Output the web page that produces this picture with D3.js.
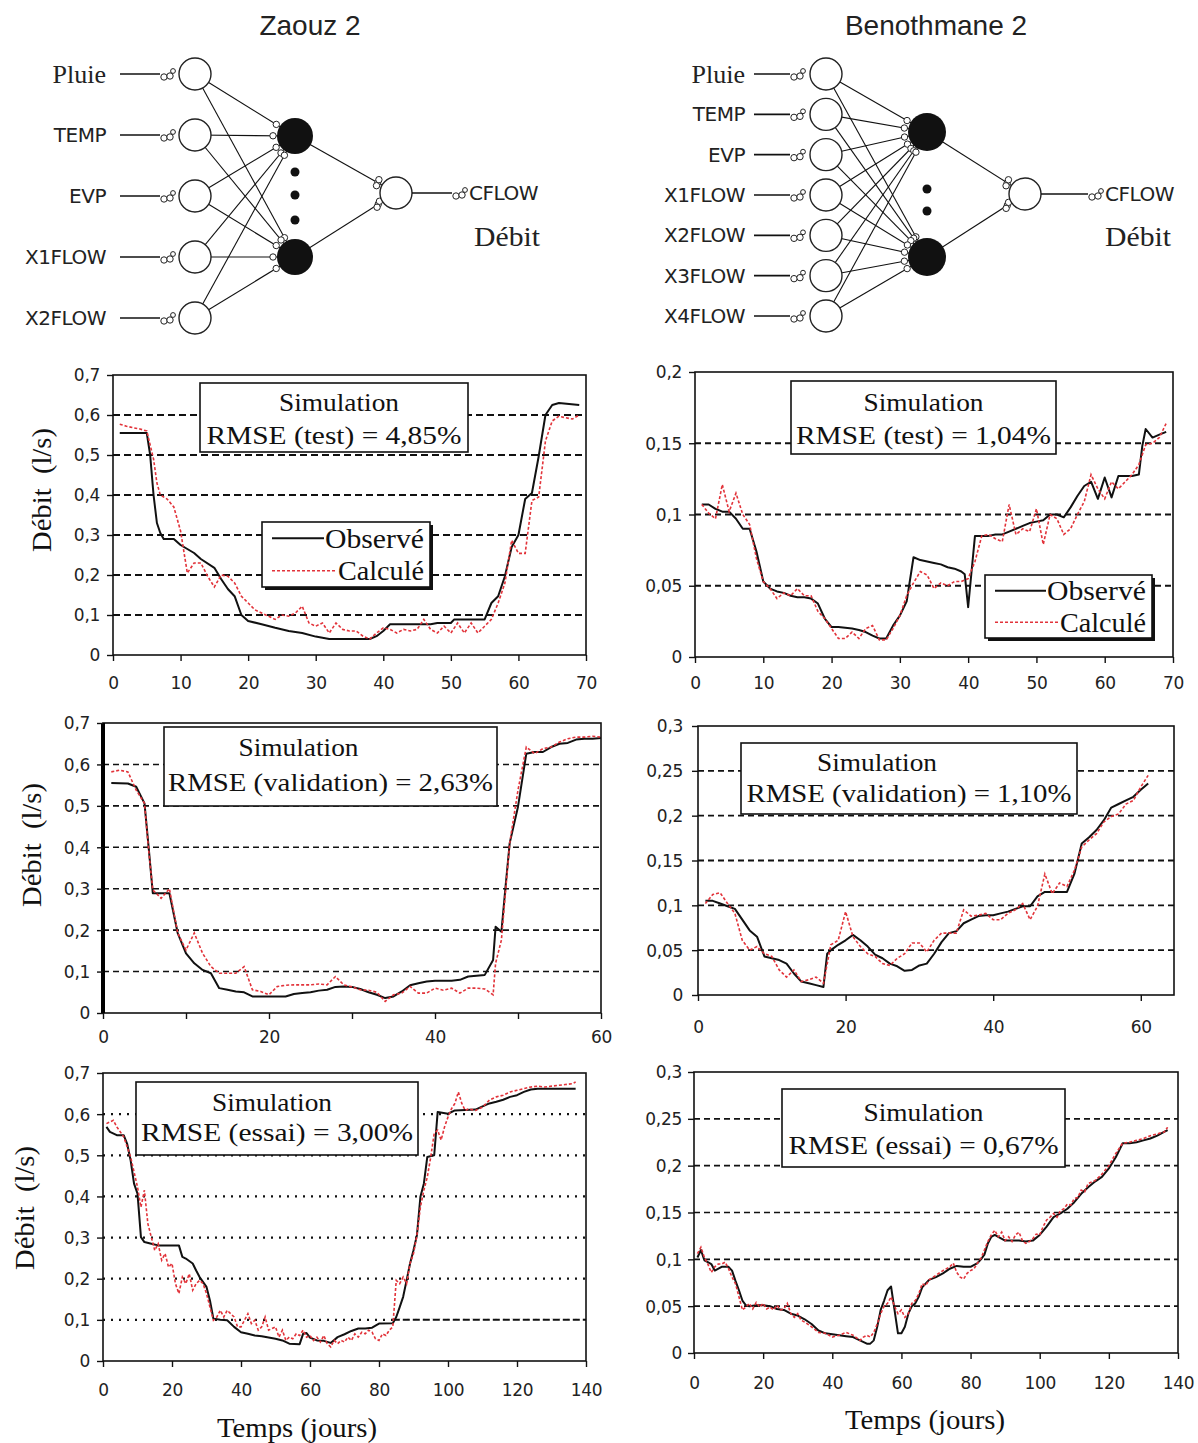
<!DOCTYPE html>
<html>
<head>
<meta charset="utf-8">
<script src="https://cdn.jsdelivr.net/npm/d3@7"></script>
<style>
  body { margin: 0; background: #fff; }
  svg { display: block; }
</style>
</head>
<body>
<svg id="fig" width="1198" height="1443"></svg>
<script>
// ---------- Network inputs ----------
const zaouzInputs = ["Pluie", "TEMP", "EVP", "X1FLOW", "X2FLOW"];
const benInputs = ["Pluie", "TEMP", "EVP", "X1FLOW", "X2FLOW", "X3FLOW", "X4FLOW"];

// ---------- Series: [day, discharge l/s] ----------
const zaouzTestObs = [[1,0.555],[5,0.555],[5.5,0.5],[6,0.4],[6.5,0.33],[7,0.305],[7.5,0.29],[9,0.29],[10,0.275],[12,0.255],[13,0.24],[15,0.218],[16,0.19],[17,0.165],[18,0.147],[19,0.1],[20,0.085],[22,0.077],[24,0.068],[26,0.06],[28,0.055],[30,0.046],[32,0.04],[38,0.04],[39,0.047],[40,0.06],[41,0.077],[47,0.077],[48,0.08],[50,0.08],[50.5,0.089],[55,0.089],[56,0.13],[57,0.147],[58,0.197],[59,0.27],[60,0.3],[61,0.39],[62,0.405],[63,0.497],[64,0.6],[65,0.625],[66,0.63],[69,0.625]];
const zaouzTestCalc = [[1,0.577],[2,0.572],[3,0.568],[4,0.565],[5,0.56],[6,0.49],[6.5,0.43],[7,0.4],[8,0.39],[9,0.37],[10,0.31],[11,0.205],[12,0.23],[13,0.23],[14,0.197],[15,0.17],[16,0.2],[17,0.197],[18,0.18],[19,0.147],[20,0.13],[21,0.113],[22,0.105],[23,0.097],[24,0.089],[25,0.1],[26,0.097],[27,0.105],[28,0.122],[29,0.08],[30,0.072],[31,0.08],[32,0.055],[33,0.08],[34,0.064],[35,0.06],[36,0.06],[37,0.047],[38,0.04],[39,0.055],[40,0.068],[41,0.064],[42,0.055],[43,0.064],[44,0.06],[45,0.064],[46,0.089],[47,0.064],[48,0.055],[49,0.072],[50,0.055],[51,0.08],[52,0.055],[53,0.08],[54,0.055],[55,0.072],[56,0.089],[57,0.13],[58,0.18],[59,0.287],[60,0.254],[61,0.254],[62,0.386],[63,0.395],[64,0.535],[65,0.585],[66,0.597],[67,0.593],[68,0.59],[69,0.6]];

const benTestObs = [[1,0.107],[2,0.107],[3,0.104],[4,0.102],[5,0.102],[6,0.097],[7,0.09],[8,0.09],[9,0.074],[10,0.053],[11,0.048],[12,0.046],[13,0.045],[14,0.043],[15,0.042],[16,0.042],[17,0.041],[18,0.0375],[19,0.027],[20,0.021],[21,0.021],[22,0.0205],[23,0.02],[24,0.019],[25,0.0175],[26,0.015],[27,0.013],[28,0.013],[29,0.022],[30,0.029],[31,0.039],[32,0.07],[33,0.068],[34,0.067],[35,0.066],[36,0.065],[37,0.063],[38,0.062],[39,0.06],[39.5,0.058],[40,0.035],[40.5,0.06],[41,0.085],[42,0.085],[43,0.085],[44,0.086],[45,0.086],[46,0.088],[47,0.09],[48,0.092],[49,0.094],[50,0.095],[51,0.096],[52,0.1],[53,0.1],[54,0.098],[55,0.105],[56,0.113],[57,0.12],[58,0.123],[59,0.111],[60,0.126],[61,0.112],[62,0.127],[63,0.127],[64,0.127],[65,0.128],[65.5,0.148],[66,0.16],[67,0.154],[68,0.156],[69,0.158]];
const benTestCalc = [[1,0.107],[2,0.101],[3,0.097],[4,0.121],[5,0.102],[6,0.115],[7,0.1],[8,0.093],[9,0.069],[10,0.053],[11,0.048],[12,0.041],[13,0.045],[14,0.043],[15,0.048],[16,0.043],[17,0.043],[18,0.032],[19,0.027],[20,0.02],[21,0.013],[22,0.013],[23,0.0175],[24,0.013],[25,0.02],[26,0.022],[27,0.012],[28,0.012],[29,0.02],[30,0.029],[31,0.043],[32,0.052],[33,0.06],[34,0.0575],[35,0.048],[36,0.052],[37,0.05],[38,0.053],[39,0.053],[40,0.055],[41,0.067],[42,0.085],[43,0.086],[44,0.083],[45,0.081],[46,0.107],[47,0.086],[48,0.09],[49,0.088],[50,0.104],[51,0.079],[52,0.1],[53,0.097],[54,0.086],[55,0.09],[56,0.1],[57,0.109],[58,0.128],[59,0.118],[60,0.111],[61,0.123],[62,0.118],[63,0.123],[64,0.128],[65,0.135],[66,0.149],[67,0.15],[68,0.154],[69,0.164]];

const zaouzValObs = [[1,0.555],[3,0.554],[4,0.546],[5,0.506],[5.5,0.4],[6,0.289],[8,0.289],[9,0.193],[10,0.144],[11,0.12],[12,0.104],[13,0.096],[14,0.06],[15,0.056],[16,0.052],[17,0.05],[18,0.04],[22,0.04],[23,0.046],[24,0.048],[25,0.05],[26,0.054],[27,0.056],[28,0.063],[29,0.064],[30,0.063],[31,0.058],[32,0.05],[33,0.044],[34,0.036],[35,0.04],[36,0.052],[37,0.067],[38,0.072],[39,0.076],[40,0.078],[42,0.078],[43,0.08],[44,0.088],[45,0.09],[46,0.092],[47,0.128],[47.3,0.208],[48,0.196],[48.5,0.305],[49,0.41],[50,0.498],[51,0.626],[52,0.63],[53,0.63],[54,0.642],[55,0.65],[56,0.652],[57,0.66],[58,0.662],[59,0.662],[60,0.664]];
const zaouzValCalc = [[1,0.582],[2,0.586],[3,0.582],[4,0.538],[5,0.506],[5.5,0.393],[6,0.297],[7,0.277],[8,0.3],[9,0.193],[10,0.152],[11,0.193],[12,0.144],[13,0.112],[14,0.096],[15,0.096],[16,0.096],[17,0.112],[18,0.056],[19,0.052],[20,0.044],[21,0.064],[22,0.067],[23,0.068],[24,0.068],[25,0.068],[26,0.07],[27,0.068],[28,0.088],[29,0.068],[30,0.063],[31,0.056],[32,0.055],[33,0.05],[34,0.028],[35,0.044],[36,0.048],[37,0.064],[38,0.048],[39,0.048],[40,0.06],[41,0.055],[42,0.06],[43,0.048],[44,0.06],[45,0.06],[46,0.058],[47,0.044],[47.3,0.12],[48,0.176],[49,0.41],[50,0.538],[51,0.642],[52,0.626],[53,0.638],[54,0.642],[55,0.654],[56,0.662],[57,0.666],[58,0.666],[59,0.668],[60,0.666]];

const benValObs = [[1,0.105],[2,0.105],[3,0.102],[4,0.099],[5,0.096],[6,0.084],[7,0.072],[8,0.065],[9,0.043],[10,0.041],[11,0.039],[12,0.035],[13,0.024],[14,0.015],[15,0.013],[16,0.011],[17,0.009],[17.5,0.046],[18,0.05],[19,0.056],[20,0.061],[21,0.067],[22,0.061],[23,0.054],[24,0.045],[25,0.041],[26,0.035],[27,0.032],[28,0.027],[29,0.028],[30,0.033],[31,0.035],[32,0.046],[33,0.059],[34,0.069],[35,0.071],[36,0.08],[37,0.084],[38,0.088],[39,0.089],[40,0.089],[41,0.091],[42,0.093],[43,0.096],[44,0.099],[45,0.099],[46,0.11],[47,0.115],[50,0.115],[51,0.135],[52,0.169],[53,0.176],[54,0.184],[55,0.195],[56,0.209],[57,0.213],[58,0.217],[59,0.221],[60,0.229],[61,0.236]];
const benValCalc = [[1,0.102],[2,0.112],[3,0.114],[4,0.102],[5,0.091],[6,0.061],[7,0.05],[8,0.054],[9,0.046],[10,0.043],[11,0.028],[12,0.02],[13,0.028],[14,0.015],[15,0.017],[16,0.02],[17,0.013],[18,0.056],[19,0.061],[20,0.093],[21,0.065],[22,0.054],[23,0.046],[24,0.043],[25,0.035],[26,0.033],[27,0.041],[28,0.046],[29,0.058],[30,0.058],[31,0.048],[32,0.061],[33,0.069],[34,0.069],[35,0.069],[36,0.095],[37,0.088],[38,0.089],[39,0.091],[40,0.084],[41,0.084],[42,0.091],[43,0.095],[44,0.102],[45,0.084],[46,0.099],[47,0.135],[48,0.113],[49,0.125],[50,0.121],[51,0.139],[52,0.165],[53,0.173],[54,0.18],[55,0.193],[56,0.199],[57,0.202],[58,0.213],[59,0.217],[60,0.232],[61,0.245]];

const zaouzEssObs = [[1,0.569],[2,0.557],[4,0.549],[6,0.549],[7,0.528],[8,0.488],[9,0.431],[10,0.407],[11,0.301],[12,0.289],[14,0.285],[16,0.281],[22,0.281],[23,0.253],[24,0.249],[26,0.237],[27,0.22],[28,0.204],[30,0.18],[31,0.147],[32,0.103],[34,0.1],[36,0.099],[38,0.083],[40,0.07],[42,0.066],[44,0.062],[46,0.06],[48,0.057],[50,0.054],[52,0.05],[54,0.042],[57,0.041],[58,0.066],[59,0.068],[60,0.057],[62,0.05],[64,0.049],[66,0.044],[68,0.058],[70,0.065],[72,0.073],[74,0.079],[76,0.079],[78,0.081],[80,0.091],[84,0.092],[85,0.107],[86,0.131],[87,0.156],[88,0.196],[89,0.237],[90,0.269],[91,0.306],[92,0.399],[93,0.431],[94,0.496],[96,0.5],[97,0.605],[100,0.601],[102,0.609],[108,0.611],[110,0.619],[112,0.626],[114,0.63],[116,0.635],[118,0.642],[120,0.646],[122,0.654],[124,0.66],[126,0.662],[137,0.662]];
const zaouzEssCalc = [[1,0.577],[3,0.585],[4,0.569],[6,0.545],[8,0.496],[10,0.423],[11,0.374],[12,0.415],[13,0.334],[14,0.301],[15,0.269],[16,0.285],[17,0.245],[18,0.261],[19,0.228],[20,0.237],[21,0.188],[22,0.164],[23,0.204],[24,0.188],[25,0.212],[26,0.172],[27,0.188],[28,0.196],[29,0.188],[30,0.164],[31,0.131],[32,0.099],[33,0.107],[34,0.123],[35,0.107],[36,0.123],[37,0.115],[38,0.107],[39,0.083],[40,0.083],[41,0.099],[42,0.115],[43,0.091],[44,0.099],[45,0.075],[46,0.083],[47,0.107],[48,0.075],[50,0.083],[51,0.058],[52,0.075],[53,0.05],[54,0.058],[55,0.054],[56,0.066],[57,0.062],[58,0.075],[59,0.058],[60,0.062],[61,0.05],[62,0.058],[63,0.046],[64,0.062],[65,0.042],[66,0.034],[67,0.05],[68,0.042],[69,0.05],[70,0.046],[71,0.058],[72,0.05],[73,0.066],[74,0.058],[75,0.07],[76,0.066],[77,0.075],[78,0.07],[79,0.054],[80,0.05],[81,0.066],[82,0.062],[83,0.075],[84,0.083],[85,0.196],[86,0.188],[87,0.204],[88,0.188],[89,0.237],[90,0.261],[91,0.306],[92,0.374],[93,0.415],[94,0.447],[95,0.496],[96,0.553],[97,0.561],[98,0.537],[99,0.569],[100,0.593],[101,0.613],[102,0.626],[103,0.654],[104,0.626],[105,0.609],[106,0.613],[108,0.609],[110,0.617],[112,0.634],[114,0.642],[116,0.646],[118,0.654],[120,0.658],[122,0.662],[124,0.666],[126,0.668],[128,0.666],[130,0.668],[132,0.67],[134,0.672],[136,0.674],[137,0.678]];

const benEssObs = [[1,0.102],[2,0.11],[3,0.099],[4,0.097],[5,0.095],[6,0.088],[8,0.092],[10,0.092],[11,0.088],[12,0.077],[13,0.067],[14,0.056],[15,0.051],[16,0.05],[18,0.051],[20,0.051],[22,0.05],[24,0.047],[26,0.046],[28,0.042],[30,0.04],[32,0.036],[34,0.031],[36,0.024],[38,0.021],[40,0.02],[42,0.019],[44,0.018],[46,0.017],[48,0.0135],[50,0.01],[51,0.01],[52,0.0135],[53,0.028],[54,0.046],[55,0.056],[56,0.067],[57,0.071],[58,0.046],[59,0.021],[60,0.021],[61,0.028],[62,0.042],[63,0.05],[64,0.053],[65,0.06],[66,0.07],[68,0.078],[70,0.081],[72,0.085],[74,0.09],[76,0.093],[78,0.092],[80,0.092],[82,0.096],[83,0.1],[84,0.105],[85,0.117],[86,0.124],[87,0.126],[88,0.124],[90,0.12],[94,0.12],[96,0.119],[98,0.12],[100,0.126],[102,0.135],[104,0.145],[106,0.149],[108,0.154],[110,0.161],[112,0.17],[114,0.177],[116,0.183],[118,0.188],[120,0.197],[122,0.209],[124,0.224],[126,0.224],[128,0.225],[130,0.227],[132,0.229],[134,0.232],[136,0.236],[137,0.238]];
const benEssCalc = [[1,0.106],[2,0.113],[3,0.102],[4,0.095],[5,0.086],[6,0.092],[7,0.095],[8,0.095],[9,0.097],[10,0.09],[11,0.081],[12,0.074],[13,0.06],[14,0.046],[15,0.049],[16,0.053],[17,0.047],[18,0.054],[19,0.049],[20,0.053],[21,0.047],[22,0.049],[23,0.046],[24,0.051],[25,0.046],[26,0.047],[27,0.053],[28,0.042],[29,0.038],[30,0.042],[31,0.035],[32,0.033],[34,0.028],[36,0.022],[38,0.021],[40,0.017],[42,0.019],[44,0.022],[46,0.019],[48,0.0135],[49,0.017],[50,0.019],[51,0.017],[52,0.022],[53,0.031],[54,0.042],[55,0.05],[56,0.053],[57,0.06],[58,0.05],[59,0.042],[60,0.046],[61,0.038],[62,0.042],[63,0.053],[64,0.056],[65,0.063],[66,0.074],[67,0.072],[68,0.078],[70,0.083],[72,0.088],[74,0.092],[75,0.096],[76,0.086],[77,0.081],[78,0.079],[79,0.085],[80,0.088],[81,0.09],[82,0.096],[83,0.101],[84,0.11],[85,0.119],[86,0.126],[87,0.131],[88,0.124],[89,0.129],[90,0.12],[91,0.124],[92,0.119],[93,0.126],[94,0.129],[95,0.12],[96,0.117],[97,0.119],[98,0.122],[99,0.127],[100,0.126],[101,0.135],[102,0.142],[103,0.145],[104,0.149],[105,0.145],[106,0.152],[107,0.154],[108,0.159],[109,0.158],[110,0.165],[111,0.166],[112,0.174],[113,0.172],[114,0.181],[116,0.184],[118,0.191],[120,0.2],[122,0.213],[124,0.224],[126,0.225],[128,0.227],[130,0.229],[132,0.232],[134,0.234],[136,0.236],[137,0.241]];

// ---------- Tick values ----------
const ticksX70 = [0, 10, 20, 30, 40, 50, 60, 70];
const ticksX60 = [0, 10, 20, 30, 40, 50, 60];
const labelsX60 = [0, 20, 40, 60];
const ticksXVal = [0, 20, 40, 60];
const ticksX140 = [0, 20, 40, 60, 80, 100, 120, 140];
const ticksY07 = [0, 0.1, 0.2, 0.3, 0.4, 0.5, 0.6, 0.7];
const ticksY02 = [0, 0.05, 0.1, 0.15, 0.2];
const ticksY03 = [0, 0.05, 0.1, 0.15, 0.2, 0.25, 0.3];

const rmseLabels = ["RMSE (test) = 4,85%", "RMSE (test) = 1,04%",
                    "RMSE (validation) = 2,63%", "RMSE (validation) = 1,10%",
                    "RMSE (essai) = 3,00%", "RMSE (essai) = 0,67%"];

const SANS = "'DejaVu Sans', sans-serif";
const ARIAL = "'Liberation Sans', Arial, sans-serif";
const SERIF = "'Liberation Serif', 'Times New Roman', serif";
const RED = "#e2333a";

const svg = d3.select("#fig");
svg.append("rect").attr("width", 1198).attr("height", 1443).attr("fill", "#fff");

// ---------- Network diagrams ----------
function drawNetwork(n) {
  const g = svg.append("g");
  const yIn = d3.scalePoint().domain(n.inputs).range([n.inTop, n.inBottom]);

  g.append("text").attr("x", n.titleX).attr("y", 25).attr("dy", "0.35em")
    .attr("text-anchor", "middle").attr("font-family", ARIAL).attr("font-size", 28)
    .attr("fill", "#222").text(n.title);

  // input -> hidden edges
  const edges = [];
  n.inputs.forEach(name => n.hiddenY.forEach(hy => edges.push({x1: n.inX, y1: yIn(name), x2: n.hidX, y2: hy})));
  g.selectAll("line.e").data(edges).join("line")
    .attr("x1", d => d.x1).attr("y1", d => d.y1).attr("x2", d => d.x2).attr("y2", d => d.y2)
    .attr("stroke", "#111").attr("stroke-width", 1.1);

  // hidden -> output edges
  n.hiddenY.forEach(hy => {
    g.append("line").attr("x1", n.hidX).attr("y1", hy).attr("x2", n.outX).attr("y2", n.outY)
      .attr("stroke", "#111").attr("stroke-width", 1.1);
  });

  // input lines, labels, nodes
  n.inputs.forEach(name => {
    const y = yIn(name);
    g.append("line").attr("x1", n.lineX0).attr("x2", n.lineX1).attr("y1", y).attr("y2", y)
      .attr("stroke", "#111").attr("stroke-width", 1.6);
    [[4, 3, 3.2], [10, 2, 3.2], [13, -3, 2.4]].forEach(c => {
      g.append("circle").attr("cx", n.lineX1 + c[0]).attr("cy", y + c[1]).attr("r", c[2])
        .attr("fill", "#fff").attr("stroke", "#222").attr("stroke-width", 1);
    });
    const serif = name === "Pluie";
    g.append("text").attr("x", n.labelX).attr("y", y).attr("dy", "0.35em")
      .attr("text-anchor", "end").attr("font-family", serif ? SERIF : SANS)
      .attr("font-size", serif ? 26 : 20).attr("fill", "#222")
      .attr("letter-spacing", serif ? 0 : -0.5).text(name);
    g.append("circle").attr("cx", n.inX).attr("cy", y).attr("r", n.inR)
      .attr("fill", "#fff").attr("stroke", "#222").attr("stroke-width", 1.4);
  });

  // small connector rings around hidden node inputs
  edges.forEach(e => {
    const a = Math.atan2(e.y1 - e.y2, e.x1 - e.x2);
    const d = n.hidR + 4;
    g.append("circle").attr("cx", e.x2 + d * Math.cos(a)).attr("cy", e.y2 + d * Math.sin(a))
      .attr("r", 3.2).attr("fill", "#fff").attr("stroke", "#222").attr("stroke-width", 1);
  });

  // hidden nodes
  g.selectAll("circle.h").data(n.hiddenY).join("circle")
    .attr("cx", n.hidX).attr("cy", d => d).attr("r", n.hidR).attr("fill", "#111");
  g.selectAll("circle.dot").data(n.dotsY).join("circle")
    .attr("cx", n.hidX).attr("cy", d => d).attr("r", 4.5).attr("fill", "#111");

  // output node connectors
  n.hiddenY.forEach(hy => {
    const a = Math.atan2(hy - n.outY, n.hidX - n.outX);
    const d = n.outR + 5;
    [[0, 0], [-4, 5], [4, -5]].forEach(o => {
      g.append("circle").attr("cx", n.outX + d * Math.cos(a) + o[0] * 0.3)
        .attr("cy", n.outY + d * Math.sin(a) + o[1] * 0.6).attr("r", 3.2)
        .attr("fill", "#fff").attr("stroke", "#222").attr("stroke-width", 1);
    });
  });
  g.append("circle").attr("cx", n.outX).attr("cy", n.outY).attr("r", n.outR)
    .attr("fill", "#fff").attr("stroke", "#222").attr("stroke-width", 1.4);
  g.append("line").attr("x1", n.outX + n.outR).attr("x2", n.outLineX1)
    .attr("y1", n.outY).attr("y2", n.outY).attr("stroke", "#111").attr("stroke-width", 1.6);
  [[4, 3, 3.2], [10, 2, 3.2], [13, -3, 2.4]].forEach(c => {
    g.append("circle").attr("cx", n.outLineX1 + c[0]).attr("cy", n.outY + c[1]).attr("r", c[2])
      .attr("fill", "#fff").attr("stroke", "#222").attr("stroke-width", 1);
  });
  g.append("text").attr("x", n.outLineX1 + 17).attr("y", n.outY).attr("dy", "0.35em")
    .attr("font-family", SANS).attr("font-size", 20).attr("letter-spacing", -0.5)
    .attr("fill", "#222").text("CFLOW");
  g.append("text").attr("x", n.debitX).attr("y", 237).attr("dy", "0.35em")
    .attr("text-anchor", "middle").attr("font-family", SERIF).attr("font-size", 27)
    .attr("textLength", 66).attr("lengthAdjust", "spacingAndGlyphs")
    .attr("fill", "#222").text("Débit");
}

drawNetwork({
  title: "Zaouz 2", titleX: 310, inputs: zaouzInputs, inTop: 74, inBottom: 318,
  inX: 195, inR: 16, labelX: 106, lineX0: 120, lineX1: 160,
  hidX: 295, hidR: 18, hiddenY: [136, 257], dotsY: [172, 195, 220],
  outX: 396, outY: 193, outR: 16, outLineX1: 452, debitX: 507
});
drawNetwork({
  title: "Benothmane 2", titleX: 936, inputs: benInputs, inTop: 74, inBottom: 316,
  inX: 826, inR: 16, labelX: 745, lineX0: 754, lineX1: 790,
  hidX: 927, hidR: 19, hiddenY: [132, 257], dotsY: [189, 211],
  outX: 1025, outY: 194, outR: 16, outLineX1: 1088, debitX: 1138
});

// ---------- Time-series panels ----------
function fmtTick(d) {
  return d === 0 ? "0" : String(+d.toFixed(2)).replace(".", ",");
}

function drawPanel(p) {
  const x = d3.scaleLinear().domain(p.xDomain).range([p.left, p.right]);
  const y = d3.scaleLinear().domain(p.yDomain).range([p.bottom, p.top]);
  const g = svg.append("g");

  // grid lines
  const gridVals = p.yTicks.filter(v => v > 0 && v < p.yDomain[1]);
  g.selectAll("line.grid").data(gridVals).join("line")
    .attr("x1", p.left).attr("x2", p.right)
    .attr("y1", d => y(d)).attr("y2", d => y(d))
    .attr("stroke", "#111").attr("stroke-width", p.gridWidth)
    .attr("stroke-dasharray", p.gridDash);
  if (p.extraDash) {
    const e = p.extraDash;
    g.append("line").attr("x1", x(e.from)).attr("x2", p.right)
      .attr("y1", y(e.value)).attr("y2", y(e.value))
      .attr("stroke", "#fff").attr("stroke-width", 3);
    g.append("line").attr("x1", x(e.from)).attr("x2", p.right)
      .attr("y1", y(e.value)).attr("y2", y(e.value))
      .attr("stroke", "#111").attr("stroke-width", 2).attr("stroke-dasharray", "7,3");
  }

  // annotation box
  const b = p.box;
  g.append("rect").attr("x", b[0]).attr("y", b[1]).attr("width", b[2] - b[0]).attr("height", b[3] - b[1])
    .attr("fill", "#fff").attr("stroke", "#111").attr("stroke-width", 1.6);
  g.append("text").attr("x", (b[0] + b[2]) / 2 + p.simDx).attr("y", p.simY).attr("dy", "0.35em")
    .attr("text-anchor", "middle").attr("font-family", SERIF).attr("font-size", 26)
    .attr("textLength", 120).attr("lengthAdjust", "spacingAndGlyphs")
    .attr("fill", "#111").text("Simulation");
  g.append("text").attr("x", (b[0] + b[2]) / 2).attr("y", p.rmseY).attr("dy", "0.35em")
    .attr("text-anchor", "middle").attr("font-family", SERIF).attr("font-size", 26)
    .attr("fill", "#111").attr("textLength", p.rmseW).attr("lengthAdjust", "spacingAndGlyphs")
    .text(p.rmse);

  // series
  const line = d3.line().x(d => x(d[0])).y(d => y(d[1]));
  g.append("path").datum(p.obs).attr("d", line).attr("fill", "none")
    .attr("stroke", "#111").attr("stroke-width", 2).attr("stroke-linejoin", "round");
  g.append("path").datum(p.calc).attr("d", line).attr("fill", "none")
    .attr("stroke", RED).attr("stroke-width", 1.6).attr("stroke-dasharray", "3,2");

  // frame
  g.append("rect").attr("x", p.left).attr("y", p.top)
    .attr("width", p.right - p.left).attr("height", p.bottom - p.top)
    .attr("fill", "none").attr("stroke", "#111").attr("stroke-width", 1.6);
  if (p.thickLeft) {
    g.append("line").attr("x1", p.left).attr("x2", p.left).attr("y1", p.top).attr("y2", p.bottom)
      .attr("stroke", "#000").attr("stroke-width", 4);
  }

  // axes
  const xl = p.xLabels || p.xTicks;
  const xa = g.append("g").attr("transform", `translate(0,${p.bottom})`)
    .call(d3.axisBottom(x).tickValues(p.xTicks).tickSize(6)
      .tickFormat(d => xl.includes(d) ? String(d) : ""));
  const ya = g.append("g").attr("transform", `translate(${p.left},0)`)
    .call(d3.axisLeft(y).tickValues(p.yTicks).tickSize(6).tickFormat(fmtTick));
  [xa, ya].forEach(a => {
    a.select(".domain").remove();
    a.selectAll(".tick line").attr("stroke", "#111").attr("stroke-width", 1.4);
    a.selectAll("text").attr("font-family", SANS).attr("font-size", 17).attr("fill", "#222")
      .attr("letter-spacing", -0.3);
  });
  xa.selectAll("text").attr("y", p.xLabDy).attr("dy", "0.35em");
  ya.selectAll("text").attr("x", -p.yLabDx).attr("dy", "0.35em");

  // axis titles
  if (p.yTitle) {
    g.append("text").attr("transform", `translate(${p.yTitle[0]},${p.yTitle[1]}) rotate(-90)`)
      .attr("dy", "0.35em").attr("text-anchor", "middle").attr("font-family", SERIF)
      .attr("font-size", 27).attr("fill", "#111").attr("xml:space", "preserve")
      .attr("textLength", 124).attr("lengthAdjust", "spacingAndGlyphs").text("Débit  (l/s)");
  }
  if (p.xTitle) {
    g.append("text").attr("x", p.xTitle[0]).attr("y", p.xTitle[1]).attr("dy", "0.35em")
      .attr("text-anchor", "middle").attr("font-family", SERIF).attr("font-size", 27)
      .attr("textLength", 160).attr("lengthAdjust", "spacingAndGlyphs")
      .attr("fill", "#111").text("Temps (jours)");
  }

  // legend
  if (p.legend) {
    const L = p.legend;
    g.append("rect").attr("x", L[0] + 3).attr("y", L[1] + 3).attr("width", L[2] - L[0]).attr("height", L[3] - L[1])
      .attr("fill", "#111");
    g.append("rect").attr("x", L[0]).attr("y", L[1]).attr("width", L[2] - L[0]).attr("height", L[3] - L[1])
      .attr("fill", "#fff").attr("stroke", "#111").attr("stroke-width", 1.6);
    const items = [["Observé", "#111", null, 2, 99], ["Calculé", RED, "3,2", 1.6, 86]];
    const rowH = (L[3] - L[1]) / 2;
    items.forEach((it, i) => {
      const cy = L[1] + rowH * (i + 0.5);
      const w = it[4];
      g.append("text").attr("x", L[2] - 6).attr("y", cy).attr("dy", "0.35em")
        .attr("text-anchor", "end").attr("font-family", SERIF).attr("font-size", 27)
        .attr("textLength", w).attr("lengthAdjust", "spacingAndGlyphs")
        .attr("fill", "#111").text(it[0]);
      g.append("line").attr("x1", L[0] + 10).attr("x2", L[2] - 6 - w - 1).attr("y1", cy).attr("y2", cy)
        .attr("stroke", it[1]).attr("stroke-width", it[3]).attr("stroke-dasharray", it[2]);
    });
  }
}

drawPanel({
  left: 113, right: 586, top: 375, bottom: 655, xDomain: [0, 70], yDomain: [0, 0.7],
  xTicks: ticksX70, yTicks: ticksY07, gridDash: "7,4", gridWidth: 2,
  box: [200, 383, 468, 452], simDx: 5, simY: 402, rmseY: 435, rmseW: 255, rmse: rmseLabels[0],
  obs: zaouzTestObs, calc: zaouzTestCalc, xLabDy: 28, yLabDx: 13,
  yTitle: [42, 490], legend: [262, 522, 430, 587]
});
drawPanel({
  left: 695, right: 1173, top: 372, bottom: 657, xDomain: [0, 70], yDomain: [0, 0.2],
  xTicks: ticksX70, yTicks: ticksY02, gridDash: "6,4", gridWidth: 1.8,
  box: [791, 381, 1056, 454], simDx: 0, simY: 402, rmseY: 435, rmseW: 255, rmse: rmseLabels[1],
  obs: benTestObs, calc: benTestCalc, xLabDy: 26, yLabDx: 13,
  legend: [985, 575, 1152, 638]
});
drawPanel({
  left: 103, right: 601, top: 723, bottom: 1013, xDomain: [0, 60], yDomain: [0, 0.7],
  xTicks: ticksX60, xLabels: labelsX60, yTicks: ticksY07, gridDash: "6,4", gridWidth: 1.6,
  box: [164, 727, 497, 806], simDx: -32, simY: 747, rmseY: 782, rmseW: 325, rmse: rmseLabels[2],
  obs: zaouzValObs, calc: zaouzValCalc, xLabDy: 24, yLabDx: 13,
  yTitle: [32, 845], thickLeft: true
});
drawPanel({
  left: 698, right: 1174, top: 726, bottom: 995, xDomain: [0, 64.5], yDomain: [0, 0.3],
  xTicks: ticksXVal, yTicks: ticksY03, gridDash: "6,4", gridWidth: 1.8,
  box: [741, 743, 1077, 814], simDx: -32, simY: 762, rmseY: 793, rmseW: 325, rmse: rmseLabels[3],
  obs: benValObs, calc: benValCalc, xLabDy: 32, yLabDx: 15
});
drawPanel({
  left: 103, right: 586, top: 1073, bottom: 1361, xDomain: [0, 140], yDomain: [0, 0.7],
  xTicks: ticksX140, yTicks: ticksY07, gridDash: "2,6", gridWidth: 2.2,
  extraDash: {value: 0.1, from: 84},
  box: [136, 1082, 418, 1155], simDx: -5, simY: 1102, rmseY: 1132, rmseW: 272, rmse: rmseLabels[4],
  obs: zaouzEssObs, calc: zaouzEssCalc, xLabDy: 29, yLabDx: 13,
  yTitle: [25, 1208], xTitle: [297, 1428]
});
drawPanel({
  left: 694, right: 1178, top: 1072, bottom: 1353, xDomain: [0, 140], yDomain: [0, 0.3],
  xTicks: ticksX140, yTicks: ticksY03, gridDash: "6,4", gridWidth: 1.6,
  box: [782, 1089, 1065, 1167], simDx: 0, simY: 1112, rmseY: 1145, rmseW: 270, rmse: rmseLabels[5],
  obs: benEssObs, calc: benEssCalc, xLabDy: 30, yLabDx: 12,
  xTitle: [925, 1420]
});
</script>
</body>
</html>
